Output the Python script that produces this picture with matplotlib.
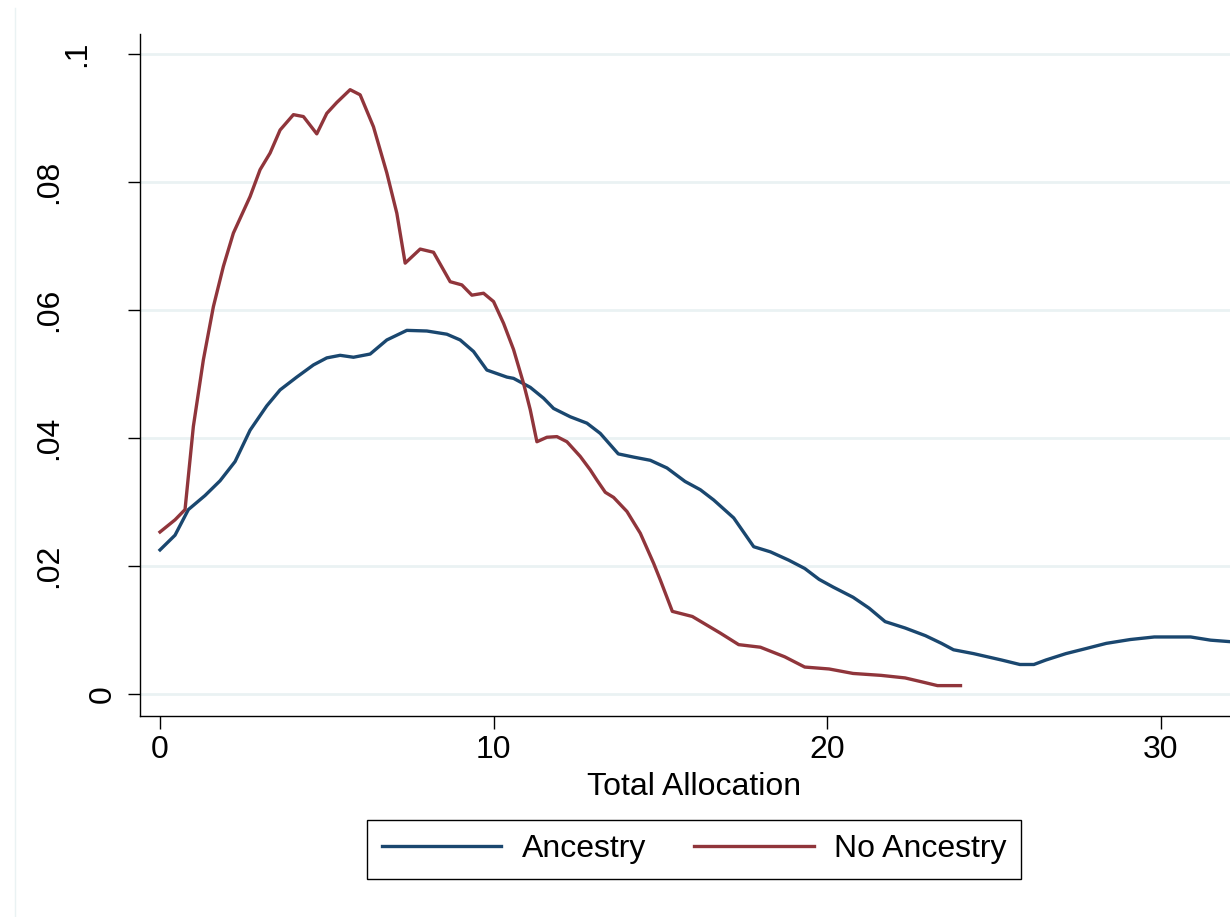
import matplotlib
matplotlib.use("Agg")
import matplotlib.pyplot as plt
import matplotlib.transforms as mtransforms
from matplotlib.lines import Line2D

plt.rcParams['font.family'] = ['Liberation Sans', 'DejaVu Sans']

# kernel density estimates
anc_x = [0.0, 0.45, 0.85, 1.35, 1.8, 2.25, 2.7, 3.2, 3.6, 4.1, 4.6, 5.0, 5.4, 5.8,
         6.3, 6.8, 7.4, 8.0, 8.6, 9.0, 9.4, 9.8, 10.4, 10.6, 11.1, 11.5, 11.8,
         12.3, 12.8, 13.2, 13.74, 14.2, 14.7, 15.2, 15.74, 16.2, 16.6, 17.2,
         17.8, 18.3, 18.85, 19.33, 19.76, 20.18, 20.78, 21.26, 21.74, 22.34,
         22.95, 23.43, 23.79, 24.39, 25.23, 25.78, 26.2, 26.56, 27.16, 27.77,
         28.37, 29.09, 29.81, 30.9, 31.5, 32.0, 32.5]
anc_y = [0.0225, 0.0248, 0.0288, 0.0310, 0.0333, 0.0363, 0.0412, 0.0450, 0.0475,
         0.0495, 0.0514, 0.0525, 0.0529, 0.0526, 0.0531, 0.0553, 0.0568, 0.0567,
         0.0562, 0.0553, 0.0535, 0.0506, 0.0495, 0.0493, 0.0479, 0.0462, 0.0446,
         0.0433, 0.0423, 0.0407, 0.0375, 0.0370, 0.0365, 0.0353, 0.0332, 0.0319,
         0.0303, 0.0275, 0.0230, 0.0222, 0.0209, 0.0196, 0.0179, 0.0167, 0.0151,
         0.0134, 0.0113, 0.0103, 0.0091, 0.0079, 0.0069, 0.0063, 0.0053, 0.0046,
         0.0046, 0.0053, 0.0063, 0.0071, 0.0079, 0.0085, 0.0089, 0.0089, 0.0084,
         0.0082, 0.0080]

noanc_x = [0.0, 0.45, 0.75, 1.0, 1.3, 1.6, 1.9, 2.2, 2.7, 3.0, 3.3, 3.6, 4.0, 4.3,
           4.7, 5.0, 5.3, 5.7, 6.0, 6.4, 6.8, 7.1, 7.35, 7.8, 8.2, 8.7, 9.05,
           9.35, 9.7, 10.0, 10.3, 10.6, 10.9, 11.1, 11.3, 11.6, 11.9, 12.2, 12.6,
           12.9, 13.1, 13.35, 13.6, 14.0, 14.4, 14.8, 15.0, 15.36, 15.96, 16.8,
           17.35, 18.0, 18.73, 19.33, 20.06, 20.78, 21.62, 22.34, 22.83, 23.31,
           24.0]
noanc_y = [0.0253, 0.0272, 0.0288, 0.0418, 0.0522, 0.0605, 0.0668, 0.0720, 0.0777,
           0.0819, 0.0845, 0.0881, 0.0905, 0.0902, 0.0875, 0.0907, 0.0924, 0.0944,
           0.0936, 0.0886, 0.0814, 0.0751, 0.0673, 0.0695, 0.0690, 0.0644, 0.0639,
           0.0623, 0.0626, 0.0613, 0.0579, 0.0538, 0.0485, 0.0444, 0.0394, 0.0401,
           0.0402, 0.0394, 0.0371, 0.0350, 0.0334, 0.0315, 0.0307, 0.0285, 0.0251,
           0.0204, 0.0178, 0.0129, 0.0121, 0.0095, 0.0077, 0.0073, 0.0058, 0.0042,
           0.0039, 0.0032, 0.0029, 0.0025, 0.0019, 0.0013, 0.0013]

xticks = [0, 10, 20, 30]
yticks = [0, 0.02, 0.04, 0.06, 0.08, 0.1]
ylabels = ['0', '.02', '.04', '.06', '.08', '.1']
series_names = ['Ancestry', 'No Ancestry']

navy = '#1a476f'
maroon = '#90353b'
gridc = '#eaf2f3'
fs = 23

W, H = 1230, 917
fig = plt.figure(figsize=(W / 100, H / 100), dpi=100)
ax = fig.add_axes([140 / W, 1 - 715.7 / H, 1 - 140 / W, (715.7 - 34) / H])

ax.plot(anc_x, anc_y, color=navy, lw=2.4, label=series_names[0],
        solid_joinstyle='round')
ax.plot(noanc_x, noanc_y, color=maroon, lw=2.4, label=series_names[1],
        solid_joinstyle='round')

ax.set_xlim(-0.6, 32.08)
ax.set_ylim(-0.0034, 0.1031)
ax.set_xticks(xticks)
ax.set_xticklabels([str(t) for t in xticks], fontsize=fs)
ax.set_yticks(yticks)
ax.set_yticklabels([])
ax.grid(axis='y', color=gridc, lw=2)
ax.set_axisbelow(True)
for s in ['top', 'right']:
    ax.spines[s].set_visible(False)
for s in ['left', 'bottom']:
    ax.spines[s].set_linewidth(1)
ax.tick_params(axis='both', direction='out', length=9, width=1, color='black')
ax.tick_params(axis='x', pad=5)

# stata-style vertical y labels, shifted by label length
trans = mtransforms.blended_transform_factory(fig.transFigure, ax.transData)
for v, lab in zip(yticks, ylabels):
    if len(lab) == 1:
        px = 103
    elif len(lab) == 2:
        px = 77.5
    else:
        px = 49
    ax.text(px / W, v, lab, transform=trans, rotation=90, ha='center',
            va='center', fontsize=fs)

fig.text(694 / W, 1 - 795 / H, 'Total Allocation', ha='center', va='baseline',
         fontsize=fs)

leg = fig.legend(loc='center', bbox_to_anchor=(694 / W, 1 - 849.5 / H), ncol=2,
                 fontsize=fs, frameon=True, fancybox=False, framealpha=1,
                 edgecolor='black', handlelength=3.75, handletextpad=0.63,
                 columnspacing=1.5, borderpad=0.46)
leg.get_frame().set_linewidth(1)
for h in leg.get_lines():
    h.set_linewidth(2.4)

# faint outer region line
fig.add_artist(Line2D([15 / W, 15 / W], [0, 1 - 8 / H], color=gridc, lw=1,
                      transform=fig.transFigure))

fig.savefig('out.png', dpi=100)
